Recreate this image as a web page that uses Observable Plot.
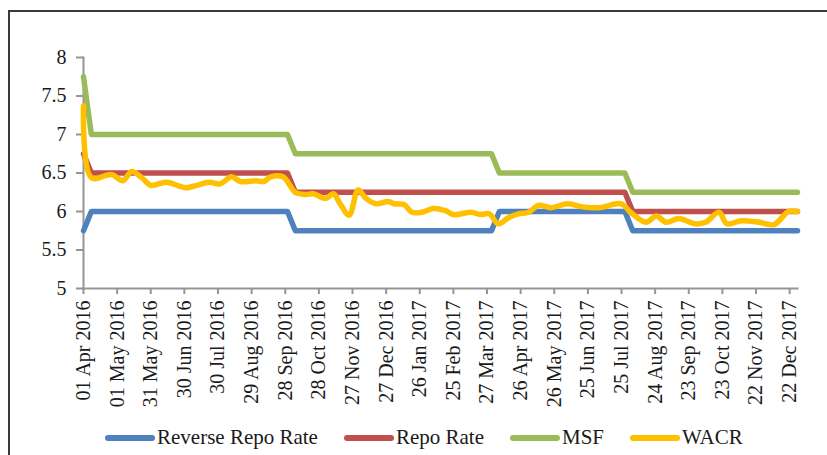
<!DOCTYPE html>
<html>
<head>
<meta charset="utf-8">
<script src="https://cdn.jsdelivr.net/npm/d3@7"></script>
<script src="https://cdn.jsdelivr.net/npm/@observablehq/plot@0.6"></script>
<style>
  html, body { margin: 0; padding: 0; background: #fff; }
  #wrap { position: relative; width: 827px; height: 455px; overflow: hidden; font-family: "Liberation Serif", "DejaVu Serif", serif; }
  #frame { position: absolute; left: 8px; top: 10px; width: 900px; height: 500px; border-left: 2px solid #3a3a3a; border-top: 2px solid #3a3a3a; pointer-events: none; }
  #chart { position: absolute; left: 0; top: 0; }
  #legend { position: absolute; left: 105px; top: 420px; height: 35px; display: flex; align-items: center; gap: 26px; font-size: 21px; color: #1a1a1a; }
  .item { display: flex; align-items: center; }
  .sw { width: 50px; height: 6px; border-radius: 3px; margin-right: 2px; }
</style>
</head>
<body>
<div id="wrap">
  <div id="chart"></div>
  <div id="legend"></div>
  <div id="frame"></div>
</div>
<script>
// ---- Data ----
const seriesNames = ["Reverse Repo Rate", "Repo Rate", "MSF", "WACR"];
const seriesColors = ["#4F81BD", "#C0504D", "#9BBB59", "#FFC000"];

// Weekly policy-rate observations around each policy change
const policyDates = ["2016-04-01", "2016-04-08", "2016-09-30", "2016-10-07", "2017-03-31", "2017-04-07", "2017-07-28", "2017-08-04", "2017-12-29"];
const reverseRepo = [5.75, 6.0, 6.0, 5.75, 5.75, 6.0, 6.0, 5.75, 5.75];
const repo        = [6.75, 6.5, 6.5, 6.25, 6.25, 6.25, 6.25, 6.0, 6.0];
const msf         = [7.75, 7.0, 7.0, 6.75, 6.75, 6.5, 6.5, 6.25, 6.25];

// WACR
const wacrDates = [
  "2016-04-01", "2016-04-08", "2016-04-26", "2016-05-06", "2016-05-14", "2016-05-23", "2016-05-31",
  "2016-06-14", "2016-07-01", "2016-07-11", "2016-07-22", "2016-08-01", "2016-08-11", "2016-08-19",
  "2016-09-02", "2016-09-09", "2016-09-15", "2016-09-26", "2016-10-07", "2016-10-16", "2016-10-23",
  "2016-11-03", "2016-11-10", "2016-11-16", "2016-11-24", "2016-12-02", "2016-12-09", "2016-12-18",
  "2016-12-29", "2017-01-03", "2017-01-12", "2017-01-19", "2017-01-28", "2017-02-07", "2017-02-18",
  "2017-02-25", "2017-03-13", "2017-03-21", "2017-03-29", "2017-04-06", "2017-04-15", "2017-04-24",
  "2017-05-03", "2017-05-12", "2017-05-23", "2017-06-07", "2017-06-20", "2017-07-05", "2017-07-25",
  "2017-08-02", "2017-08-16", "2017-08-25", "2017-09-03", "2017-09-14", "2017-09-29", "2017-10-08",
  "2017-10-20", "2017-10-27", "2017-11-09", "2017-11-25", "2017-12-08", "2017-12-21", "2017-12-29"
];
const wacrValues = [
  7.37, 6.44, 6.48, 6.40, 6.52, 6.44, 6.34,
  6.38, 6.31, 6.34, 6.38, 6.36, 6.45, 6.39,
  6.40, 6.39, 6.45, 6.45, 6.25, 6.22, 6.23,
  6.17, 6.23, 6.10, 5.95, 6.28, 6.17, 6.10,
  6.13, 6.10, 6.09, 5.99, 5.99, 6.04, 6.01,
  5.96, 5.99, 5.96, 5.97, 5.84, 5.92, 5.97,
  5.99, 6.08, 6.05, 6.10, 6.06, 6.05, 6.10,
  5.99, 5.86, 5.94, 5.86, 5.91, 5.84, 5.86,
  5.99, 5.84, 5.88, 5.86, 5.83, 6.00, 6.00
];

const xTickDates = [
  "2016-04-01", "2016-05-01", "2016-05-31", "2016-06-30", "2016-07-30", "2016-08-29", "2016-09-28",
  "2016-10-28", "2016-11-27", "2016-12-27", "2017-01-26", "2017-02-25", "2017-03-27", "2017-04-26",
  "2017-05-26", "2017-06-25", "2017-07-25", "2017-08-24", "2017-09-23", "2017-10-23", "2017-11-22",
  "2017-12-22"
];
const yTicks = [5, 5.5, 6, 6.5, 7, 7.5, 8];
const xDomain = ["2016-04-01", "2017-12-29"];

// ---- Build tables ----
const parse = d3.utcParse("%Y-%m-%d");
const rows = [];
[[reverseRepo, 0], [repo, 1], [msf, 2]].forEach(([vals, i]) => {
  policyDates.forEach((d, j) => rows.push({date: parse(d), value: vals[j], series: seriesNames[i]}));
});
const wacr = wacrDates.map((d, j) => ({date: parse(d), value: wacrValues[j], series: seriesNames[3]}));

const fmt = d3.utcFormat("%d %b %Y");

const chart = Plot.plot({
  width: 827,
  height: 420,
  marginLeft: 83,
  marginRight: 30,
  marginTop: 57,
  marginBottom: 132,
  style: {fontFamily: '"Liberation Serif", "DejaVu Serif", serif', fontSize: "20px", color: "#1a1a1a", background: "transparent", overflow: "visible"},
  x: {type: "utc", domain: xDomain.map(parse)},
  y: {domain: [5, 8]},
  color: {domain: seriesNames, range: seriesColors},
  marks: [
    Plot.frame({anchor: "left", stroke: "#959595", strokeWidth: 2}),
    Plot.frame({anchor: "bottom", stroke: "#959595", strokeWidth: 2}),
    Plot.axisY({ticks: yTicks, tickSize: 7, tickPadding: 10, stroke: "#959595", strokeWidth: 2, fill: "#1a1a1a", tickFormat: d => String(d), label: null}),
    Plot.axisX({ticks: xTickDates.map(parse), tickSize: 6, tickPadding: 6, tickRotate: -90, tickFormat: fmt, stroke: "#959595", strokeWidth: 2, fill: "#1a1a1a", label: null}),
    Plot.line(rows, {x: "date", y: "value", z: "series", stroke: "series", strokeWidth: 5.5, strokeLinejoin: "round", strokeLinecap: "round"}),
    Plot.line(wacr, {x: "date", y: "value", stroke: "series", strokeWidth: 5.5, curve: "catmull-rom", strokeLinejoin: "round", strokeLinecap: "round"})
  ]
});
document.getElementById("chart").appendChild(chart);

// ---- Legend ----
const legend = document.getElementById("legend");
seriesNames.forEach((name, i) => {
  const item = document.createElement("div");
  item.className = "item";
  const sw = document.createElement("span");
  sw.className = "sw";
  sw.style.background = seriesColors[i];
  const label = document.createElement("span");
  label.textContent = name;
  item.appendChild(sw);
  item.appendChild(label);
  legend.appendChild(item);
});
</script>
</body>
</html>
